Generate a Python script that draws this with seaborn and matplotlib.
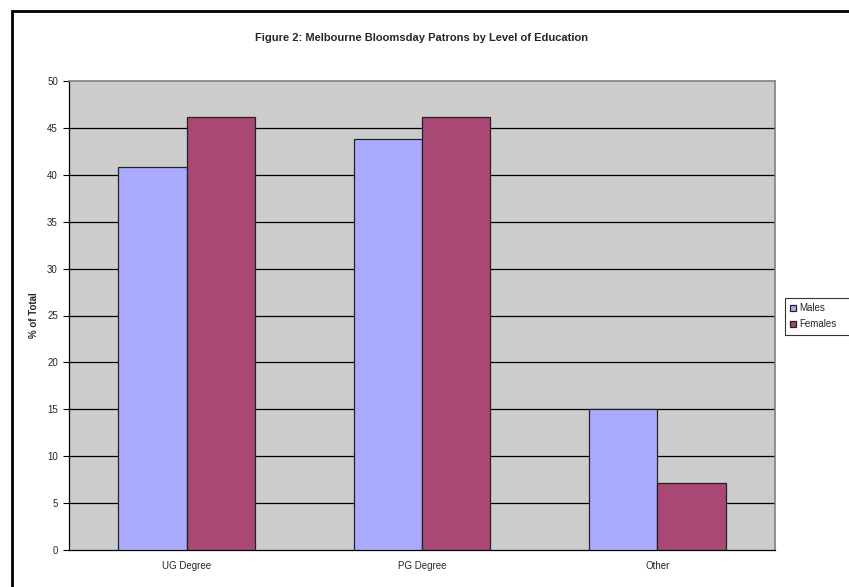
import matplotlib
matplotlib.use("Agg")
import matplotlib.pyplot as plt
from matplotlib.patches import Rectangle
import seaborn as sns
import pandas as pd

categories = ["UG Degree", "PG Degree", "Other"]
males = [40.8, 43.8, 15.0]
females = [46.2, 46.2, 7.1]
series_names = ["Males", "Females"]
y_ticks = list(range(0, 51, 5))

df = pd.DataFrame({
    "Education": categories * 2,
    "Sex": [series_names[0]] * 3 + [series_names[1]] * 3,
    "Value": males + females,
})

sns.set_theme(style="white")
plt.rcParams["font.family"] = ["Liberation Sans", "DejaVu Sans"]

W, H = 849, 587
fig = plt.figure(figsize=(W / 100, H / 100), dpi=100)
fig.patch.set_facecolor("white")
ax = fig.add_axes([69 / W, 1 - 550 / H, (775 - 69) / W, (550 - 81) / H])
ax.set_facecolor("#CCCCCC")

sns.barplot(data=df, x="Education", y="Value", hue="Sex", order=categories,
            hue_order=series_names, palette=["#AAAAFF", "#A94775"],
            width=0.58, gap=0, edgecolor="#222222", linewidth=0.9,
            saturation=1, ax=ax, zorder=3)

ax.set_ylim(0, 50)
ax.set_xlim(-0.5, 2.5)
ax.set_yticks(y_ticks)
ax.set_yticklabels([str(t) for t in y_ticks], fontsize=7)
for t in y_ticks[1:-1]:
    ax.axhline(t, color="black", linewidth=0.9, zorder=1)

ax.set_xticks([-0.5, 0.5, 1.5, 2.5])
ax.set_xticklabels([])
ax.set_xticks([0, 1, 2], minor=True)
ax.set_xticklabels(categories, minor=True, fontsize=7)
ax.tick_params(axis="x", which="major", direction="out", length=4, width=0.8, color="black")
ax.tick_params(axis="x", which="minor", length=0, pad=8)
ax.tick_params(axis="y", direction="out", length=4, width=0.8, color="black", pad=4, left=True)
ax.set_xlabel("")
ax.set_ylabel("% of Total", fontsize=7, fontweight="bold", labelpad=6)

for s in ["left", "bottom"]:
    ax.spines[s].set_color("black")
    ax.spines[s].set_linewidth(0.9)
for s in ["top", "right"]:
    ax.spines[s].set_color("#808080")
    ax.spines[s].set_linewidth(1.2)

fig.text(0.5 * (69 + 775) / W, 1 - 38 / H,
         "Figure 2: Melbourne Bloomsday Patrons by Level of Education",
         ha="center", va="center", fontsize=8, fontweight="bold")

leg = ax.legend(loc="upper left",
                bbox_to_anchor=(785 / W, 1 - 338 / H, 70 / W, 40 / H),
                mode="expand",
                bbox_transform=fig.transFigure, fontsize=7, frameon=True,
                fancybox=False, shadow=False, handlelength=0.6, handleheight=0.6,
                handletextpad=0.3, borderpad=0.55, labelspacing=0.6,
                borderaxespad=0)
leg.get_frame().set_edgecolor("black")
leg.get_frame().set_linewidth(0.8)

fig.patches.append(Rectangle((12 / W, -0.05), 1.1, 1 - 11 / H + 0.05,
                             transform=fig.transFigure, fill=False,
                             edgecolor="black", linewidth=2, zorder=0))

fig.savefig("out.png", dpi=100)
